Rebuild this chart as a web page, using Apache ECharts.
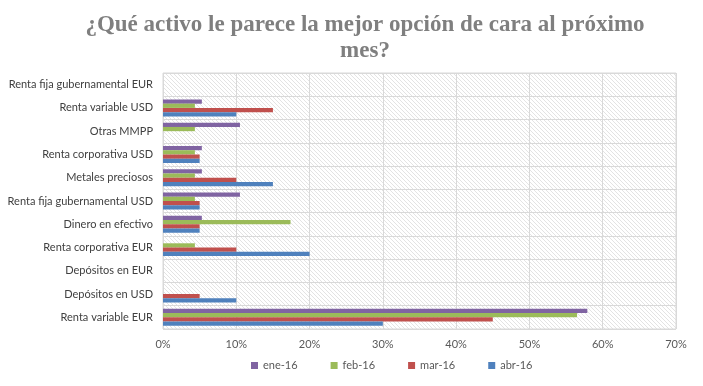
<!DOCTYPE html>
<html><head><meta charset="utf-8">
<script src="https://cdn.jsdelivr.net/npm/echarts@6/dist/echarts.min.js"></script>
<style>html,body{margin:0;padding:0;background:#fff}#c{width:703px;height:386px}</style>
</head><body><div id="c"></div>
<script>
// categories listed bottom to top
var categories = ['Renta variable EUR','Depósitos en USD','Depósitos en EUR','Renta corporativa EUR','Dinero en efectivo','Renta fija gubernamental USD','Metales preciosos','Renta corporativa USD','Otras MMPP','Renta variable USD','Renta fija gubernamental EUR'];
var ene16 = [57.9, 0, 0, 0, 5.3, 10.5, 5.3, 5.3, 10.5, 5.3, 0];
var feb16 = [56.5, 0, 0, 4.35, 17.4, 4.35, 4.35, 4.35, 4.35, 4.35, 0];
var mar16 = [45, 5, 0, 10, 5, 5, 10, 5, 0, 15, 0];
var abr16 = [30, 10, 0, 20, 5, 5, 15, 5, 0, 10, 0];
var xTicks = [0, 10, 20, 30, 40, 50, 60, 70];

var pc = document.createElement('canvas');
pc.width = 4; pc.height = 4;
var g = pc.getContext('2d');
g.fillStyle = '#fff'; g.fillRect(0,0,4,4);
g.strokeStyle = '#dcdcdc'; g.lineWidth = 0.8;
g.beginPath();
g.moveTo(-1,-1); g.lineTo(5,5);
g.moveTo(-1,3); g.lineTo(1,5);
g.moveTo(3,-1); g.lineTo(5,1);
g.stroke();

var chart = echarts.init(document.getElementById('c'));
var font = 'Lato, "Open Sans", sans-serif';
function s(name, data, color){
  return {name:name, type:'bar', data:data, itemStyle:{color:color}, barGap:'0%', barCategoryGap:'27%'};
}
chart.setOption({
  animation:false,
  title:{text:'¿Qué activo le parece la mejor opción de cara al próximo\nmes?', left:360, textAlign:'center', top:7,
    textStyle:{fontFamily:'"Liberation Serif", serif', fontWeight:'bold', fontSize:23, color:'#7f7f7f', lineHeight:26}},
  legend:{data:['ene-16','feb-16','mar-16','abr-16'], bottom:10, left:246, itemWidth:7, itemHeight:7, itemGap:33, icon:'rect',
    textStyle:{fontFamily:font, fontSize:11, color:'#595959'}},
  grid:{left:163, right:27, top:73, bottom:57, show:true, borderColor:'#d9d9d9', borderWidth:1,
    backgroundColor:{image:pc, repeat:'repeat'}},
  xAxis:{type:'value', min:0, max:70, interval:10,
    axisLabel:{formatter:'{value}%', fontFamily:font, fontSize:11, color:'#595959', margin:10},
    splitLine:{lineStyle:{color:'#d9d9d9'}}, axisLine:{show:false}, axisTick:{show:false}},
  yAxis:{type:'category', data:categories,
    axisLabel:{fontFamily:font, fontSize:11, color:'#404040', margin:10},
    splitLine:{show:true, lineStyle:{color:'#d9d9d9'}}, axisLine:{show:false}, axisTick:{show:false}},
  series:[s('ene-16', ene16, '#8064A2'), s('feb-16', feb16, '#9BBB59'), s('mar-16', mar16, '#C0504D'), s('abr-16', abr16, '#4F81BD')]
});
</script></body></html>
